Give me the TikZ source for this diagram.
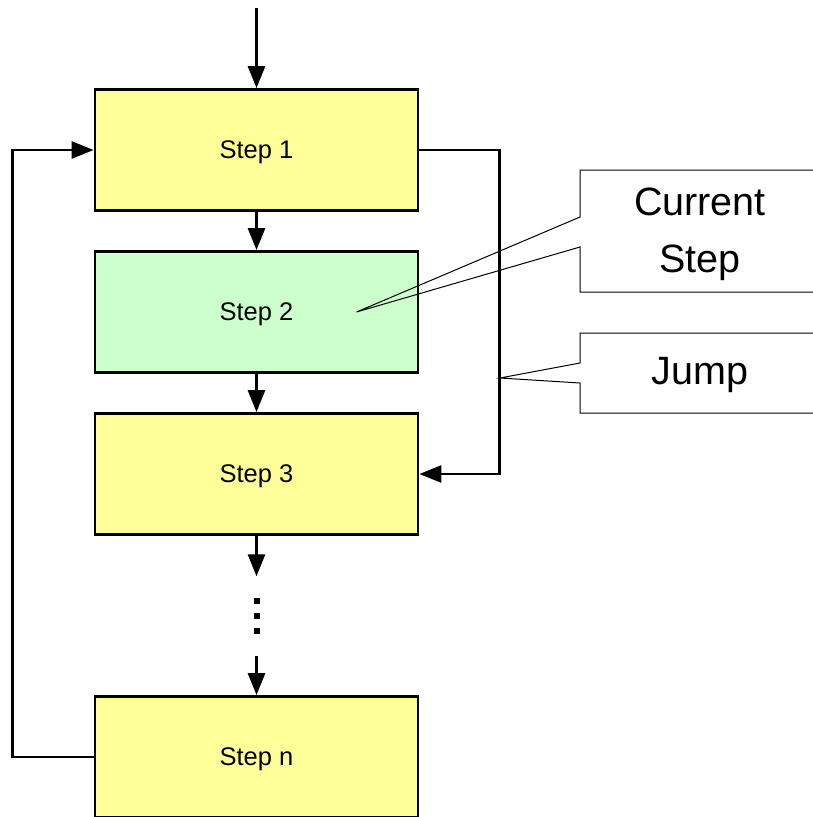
\documentclass[tikz,border=0pt]{standalone}
\usepackage{fontspec}
\setmainfont{Liberation Sans}
\usetikzlibrary{arrows.meta, positioning}

\definecolor{stepyellow}{RGB}{255,255,153}
\definecolor{stepgreen}{RGB}{204,255,204}

\begin{document}
\begin{tikzpicture}[x=1pt,y=-1pt,node distance=162pt,on grid,
		stepbox/.style={draw, line width=2.8pt, fill=stepyellow, minimum width=323pt, minimum height=121pt, text depth=0pt, font=\fontsize{25.5}{30}\selectfont},
		arr/.style={line width=2.8pt, -{Triangle[length=22pt,width=17pt]}},
		notebox/.style={draw, line width=1pt},
		notetext/.style={font=\fontsize{39.5}{57}\selectfont, align=center}]
		\useasboundingbox (0,0) rectangle (813,817);
		\node[stepbox] 					(step1) 	at (256.5,150) 	{Step 1};
		\node[stepbox, fill=stepgreen] 	(step2) 	[below=of step1] 	{Step 2};
		\node[stepbox] 					(step3) 	[below=of step2] 	{Step 3};
		\node[minimum height=79pt, inner sep=0pt] 	(dots) 	[below=142pt of step3] 	{};
		\node[stepbox] 					(stepn) 	[below=141pt of dots] 	{Step n};
		\coordinate (start) at (256.5,8);
		\foreach \dy in {-15,0,15}
			\fill ([shift={(-3,\dy-3)}]dots.center) rectangle ++(6,6);
		% main flow
		\draw[arr] (start) -- (step1);
		\draw[arr] (step1) -- (step2);
		\draw[arr] (step2) -- (step3);
		\draw[arr] (step3) -- (dots);
		\draw[arr] (dots) -- (stepn);
		% jump and loop back
		\draw[arr] (step1.east) -- ++(80,0) |- (step3.east);
		\draw[arr] (stepn.west) -- ++(-81,0) |- (step1.west);
		% callouts
		\coordinate (curtip) at ([xshift=100pt]step2.center);
		\coordinate (jumptip) at (500,378);
		\draw[notebox] (830,170) -- (580,170) -- (580,217) -- (curtip) -- (580,247) -- (580,292) -- (830,292);
		\draw[notebox] (830,333) -- (580,333) -- (580,363) -- (jumptip) -- (580,383) -- (580,413) -- (830,413);
		\node[notetext] (current) at (700,234) {Current\\Step};
		\node[notetext] (jump) at (700,375) {Jump};
	\end{tikzpicture}
\end{document}
